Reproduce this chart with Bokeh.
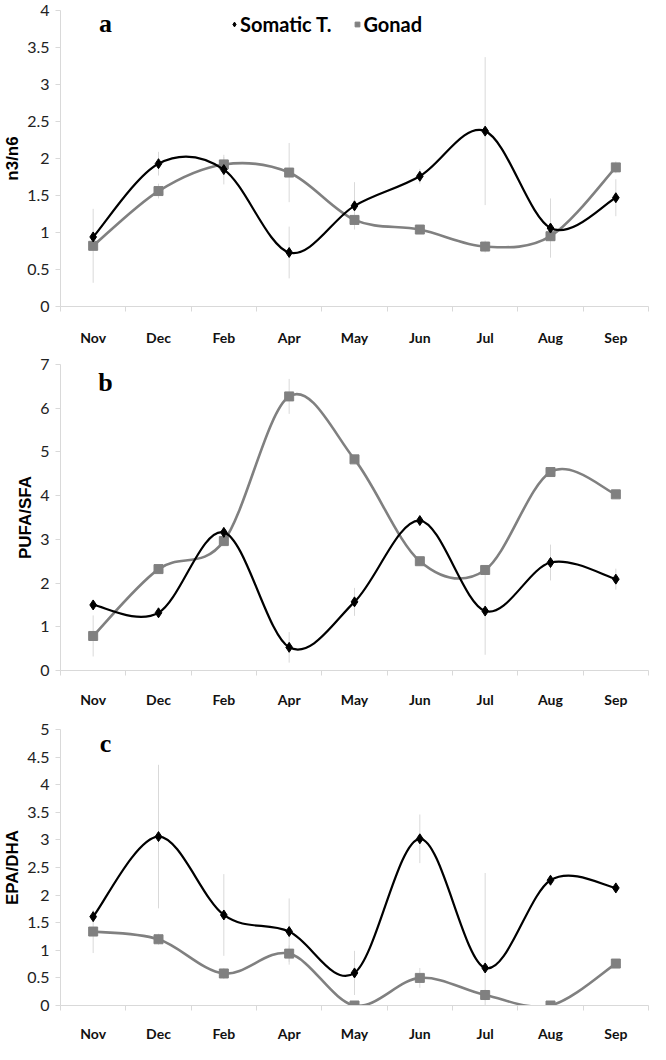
from bokeh.plotting import figure
from bokeh.layouts import column
from bokeh.models import (Range1d, FixedTicker, CustomJSTickFormatter, Label,
                          Legend, LegendItem, ColumnDataSource)
from bokeh.embed import file_html
from bokeh.resources import INLINE

# ---------------- data ----------------
months = ["Nov", "Dec", "Feb", "Apr", "May", "Jun", "Jul", "Aug", "Sep"]

n3n6_somatic = [0.94, 1.93, 1.85, 0.73, 1.36, 1.76, 2.37, 1.06, 1.47]
n3n6_somatic_err = [0.05, 0.16, 0.20, 0.35, 0.32, 0.10, 1.00, 0.40, 0.25]
n3n6_gonad = [0.82, 1.56, 1.92, 1.81, 1.17, 1.04, 0.81, 0.95, 1.88]
n3n6_gonad_err = [0.50, 0.10, 0.10, 0.40, 0.10, 0.05, 0.08, 0.05, 0.08]

pufa_somatic = [1.50, 1.32, 3.16, 0.53, 1.57, 3.43, 1.36, 2.47, 2.09]
pufa_somatic_err = [0.10, 0.10, 0.10, 0.35, 0.32, 0.10, 1.00, 0.41, 0.24]
pufa_gonad = [0.79, 2.32, 2.96, 6.27, 4.83, 2.50, 2.30, 4.54, 4.03]
pufa_gonad_err = [0.47, 0.10, 0.10, 0.40, 0.10, 0.10, 0.10, 0.10, 0.10]

epa_somatic = [1.61, 3.06, 1.64, 1.34, 0.59, 3.02, 0.68, 2.27, 2.13]
epa_somatic_err = [0.10, 1.30, 0.74, 0.60, 0.40, 0.44, 1.72, 0.10, 0.10]
epa_gonad = [1.34, 1.20, 0.58, 0.94, 0.00, 0.50, 0.19, 0.00, 0.76]
epa_gonad_err = [0.39, 0.10, 0.10, 0.15, 0.05, 0.18, 0.10, 0.00, 0.05]

y_ticks_a = [0, 0.5, 1, 1.5, 2, 2.5, 3, 3.5, 4]
y_ticks_b = [0, 1, 2, 3, 4, 5, 6, 7]
y_ticks_c = [0, 0.5, 1, 1.5, 2, 2.5, 3, 3.5, 4, 4.5, 5]

SOM = "#000000"
GON = "#808080"
ERR = "#d9d9d9"
AXC = "#d9d9d9"
FONT = "Lato"


def bezier_source(xs, ys):
    """Excel-style smoothed line: Catmull-Rom segments as cubic Beziers."""
    n = len(xs)
    d = dict(x0=[], y0=[], x1=[], y1=[], cx0=[], cy0=[], cx1=[], cy1=[])
    for i in range(n - 1):
        a = max(i - 1, 0)
        b = min(i + 2, n - 1)
        d["x0"].append(xs[i]); d["y0"].append(ys[i])
        d["x1"].append(xs[i + 1]); d["y1"].append(ys[i + 1])
        d["cx0"].append(xs[i] + (xs[i + 1] - xs[a]) / 6.0)
        d["cy0"].append(ys[i] + (ys[i + 1] - ys[a]) / 6.0)
        d["cx1"].append(xs[i + 1] - (xs[b] - xs[i]) / 6.0)
        d["cy1"].append(ys[i + 1] - (ys[b] - ys[i]) / 6.0)
    return ColumnDataSource(d)


def panel(somatic, som_err, gonad, gon_err, ymax, yticks, ylabel, letter,
          letter_y, height, top, bottom, xstandoff, legend=False):
    xs = [i + 0.5 for i in range(len(months))]
    p = figure(width=650, height=height, output_backend="svg",
               toolbar_location=None, x_range=Range1d(0, len(months)),
               y_range=Range1d(0, ymax), min_border_left=54,
               min_border_right=2, min_border_top=top,
               min_border_bottom=bottom)
    p.outline_line_color = None
    p.grid.visible = False
    p.background_fill_color = "white"

    # x axis
    xa = p.xaxis[0]
    xa.ticker = FixedTicker(ticks=xs, minor_ticks=list(range(len(months) + 1)))
    xa.formatter = CustomJSTickFormatter(args=dict(labels=months),
                                         code="return labels[Math.floor(tick)];")
    xa.axis_line_color = AXC
    xa.major_tick_out = 0
    xa.major_tick_in = 0
    xa.minor_tick_out = 5
    xa.minor_tick_in = 0
    xa.minor_tick_line_color = AXC
    xa.major_label_standoff = xstandoff
    xa.major_label_text_font = FONT
    xa.major_label_text_font_style = "bold"
    xa.major_label_text_font_size = "14px"
    xa.major_label_text_color = "#111111"

    # y axis
    ya = p.yaxis[0]
    ya.ticker = FixedTicker(ticks=yticks, minor_ticks=[])
    ya.formatter = CustomJSTickFormatter(code="return String(tick);")
    ya.axis_line_color = AXC
    ya.major_tick_line_color = AXC
    ya.major_tick_out = 5
    ya.major_tick_in = 0
    ya.minor_tick_out = 0
    ya.minor_tick_in = 0
    ya.major_label_standoff = 6
    ya.major_label_text_font = FONT
    ya.major_label_text_font_size = "16px"
    ya.major_label_text_color = "#222222"
    ya.axis_label = ylabel
    ya.axis_label_text_font = "Liberation Sans"
    ya.axis_label_text_font_style = "bold"
    ya.axis_label_text_font_size = "17px"
    ya.axis_label_text_color = "#000000"
    ya.axis_label_standoff = 2

    # error bars
    p.segment(x0=xs, x1=xs,
              y0=[v - e for v, e in zip(somatic, som_err)],
              y1=[v + e for v, e in zip(somatic, som_err)],
              line_color=ERR, line_width=1)
    p.segment(x0=xs, x1=xs,
              y0=[v - e for v, e in zip(gonad, gon_err)],
              y1=[v + e for v, e in zip(gonad, gon_err)],
              line_color=ERR, line_width=1)

    # smoothed lines
    p.bezier(x0="x0", y0="y0", x1="x1", y1="y1", cx0="cx0", cy0="cy0",
             cx1="cx1", cy1="cy1", source=bezier_source(xs, gonad),
             line_color=GON, line_width=2.6)
    g = p.scatter(xs, gonad, marker="square", size=9, fill_color=GON,
                  line_color=GON)
    p.bezier(x0="x0", y0="y0", x1="x1", y1="y1", cx0="cx0", cy0="cy0",
             cx1="cx1", cy1="cy1", source=bezier_source(xs, somatic),
             line_color=SOM, line_width=2.2)
    s = p.scatter(xs, somatic, marker="diamond", size=10, fill_color=SOM,
                  line_color=SOM)

    p.add_layout(Label(x=0.69, y=letter_y, text=letter,
                       text_font="Liberation Serif", text_font_style="bold",
                       text_font_size="26px", text_align="center",
                       text_baseline="alphabetic", text_color="#000000"))

    if legend:
        lg = Legend(items=[LegendItem(label="Somatic T.", renderers=[s]),
                           LegendItem(label="Gonad", renderers=[g])],
                    orientation="horizontal", location=(168, 270),
                    border_line_color=None, background_fill_alpha=0,
                    padding=0, margin=0, spacing=20, label_standoff=0,
                    glyph_width=12, glyph_height=20,
                    label_text_font=FONT, label_text_font_style="bold",
                    label_text_font_size="20px", label_text_color="#000000")
        p.add_layout(lg, "center")
    return p


pa = panel(n3n6_somatic, n3n6_somatic_err, n3n6_gonad, n3n6_gonad_err,
           4, y_ticks_a, "n3/n6", "a", 3.83, 348, 10, 39, 17, legend=True)
pb = panel(pufa_somatic, pufa_somatic_err, pufa_gonad, pufa_gonad_err,
           7, y_ticks_b, "PUFA/SFA", "b", 6.58, 362, 16, 31, 15)
pc = panel(epa_somatic, epa_somatic_err, epa_gonad, epa_gonad_err,
           5, y_ticks_c, "EPA/DHA", "c", 4.74, 334, 19, 31, 14)

layout = column(pa, pb, pc, spacing=0)
open("out.html", "w").write(file_html(layout, INLINE))
